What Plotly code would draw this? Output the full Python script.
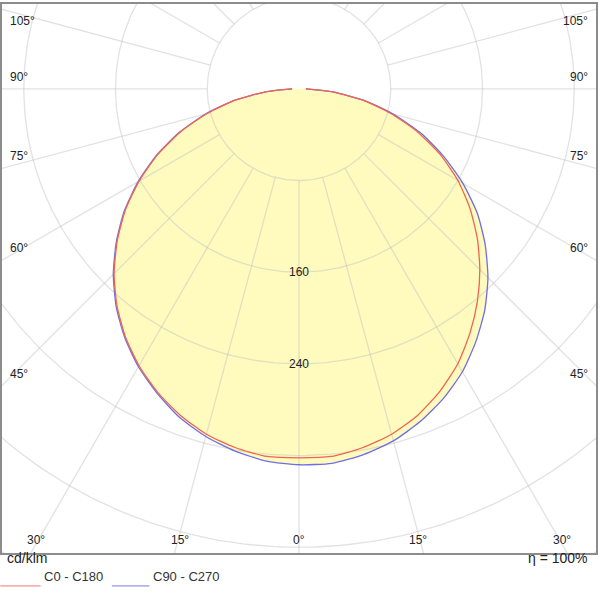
import numpy as np
import plotly.graph_objects as go

angles = [0, 5, 10, 15, 20, 25, 30, 35, 40, 45, 50, 55, 60, 65, 70, 75, 80, 85, 90]
c0 = [322, 322, 318, 312, 303, 291, 277, 260, 242, 223, 203, 182, 160, 136, 110, 83, 56, 28, 6]
c180 = [322, 322, 318, 312, 303, 292, 279, 264, 247, 228, 207, 185, 161, 136, 110, 83, 56, 28, 6]
c90 = [328, 328, 324, 318, 309, 298, 285, 269, 252, 233, 212, 190, 165, 139, 113, 85, 57, 29, 6]
c270 = [328, 326, 321, 314, 305, 293, 280, 265, 248, 229, 208, 186, 162, 137, 111, 84, 56, 28, 6]
rings = [80, 160, 240, 320, 400, 480, 560]
ring_labels = [160, 240]
side_labels = [45, 60, 75, 90, 105]
bottom_labels = [0, 15, 30]

XR, YT, YB = 259, 74, -405

def curve(right, left):
    a = np.radians(np.array(angles, float))
    r_r, r_l = np.array(right, float), np.array(left, float)
    xs = np.concatenate([(-r_l * np.sin(a))[::-1], (r_r * np.sin(a))[1:]])
    ys = np.concatenate([(-r_l * np.cos(a))[::-1], (-r_r * np.cos(a))[1:]])
    return xs, ys

fig = go.Figure()
fx, fy = curve(np.maximum(c0, c90), np.maximum(c180, c270))
fig.add_trace(go.Scatter(x=fx, y=fy, mode="lines", line=dict(width=0, shape="spline", smoothing=0.6),
                         fill="toself", fillcolor="rgb(255,251,190)", hoverinfo="skip"))
t = np.linspace(0, 2 * np.pi, 361)
GRID = "rgba(190,190,190,0.45)"
for r in rings:
    fig.add_trace(go.Scatter(x=r * np.sin(t), y=r * np.cos(t), mode="lines",
                             line=dict(color=GRID, width=1.3), hoverinfo="skip"))
for d in range(-180, 181, 15):
    a = np.radians(d)
    fig.add_trace(go.Scatter(x=[80 * np.sin(a), 800 * np.sin(a)], y=[-80 * np.cos(a), -800 * np.cos(a)],
                             mode="lines", line=dict(color=GRID, width=1.3), hoverinfo="skip"))
bx, by = curve(c90, c270)
fig.add_trace(go.Scatter(x=bx, y=by, mode="lines",
                         line=dict(color="rgb(110,110,230)", width=1.3, shape="spline", smoothing=0.6)))
rx, ry = curve(c0, c180)
fig.add_trace(go.Scatter(x=rx, y=ry, mode="lines",
                         line=dict(color="rgb(240,100,80)", width=1.3, shape="spline", smoothing=0.6)))

ann = []
F = dict(family="Liberation Sans, Arial", size=12, color="#222")
for v in ring_labels:
    ann.append(dict(x=0, y=-v, text=str(v), showarrow=False, font=F))
for d in side_labels:
    y = -XR / np.tan(np.radians(d)) if d != 90 else 0
    for s in (-1, 1):
        ann.append(dict(x=s * XR, y=y, text=f"{d}°", showarrow=False, font=F,
                        xanchor="left" if s < 0 else "right", xshift=-s * 6,
                        yshift=-12 if d == 105 else 12))
for d in bottom_labels:
    xv = -YB * np.tan(np.radians(d))
    for s in ((1,) if d == 0 else (-1, 1)):
        ann.append(dict(x=s * xv, y=YB, text=f"{d}°", showarrow=False, font=F,
                        yanchor="bottom", yshift=4, xshift=-s * 5 if d else 0))
ann += [
    dict(xref="paper", yref="paper", x=0.005, y=-0.028, text="cd/klm", showarrow=False,
         xanchor="left", font=dict(family="Liberation Sans, Arial", size=14, color="#222")),
    dict(xref="paper", yref="paper", x=0.99, y=-0.028, text="η = 100%", showarrow=False,
         xanchor="right", font=dict(family="Liberation Sans, Arial", size=14, color="#222")),
    dict(xref="paper", yref="paper", x=0.068, y=-0.06, text="C0 - C180", showarrow=False,
         xanchor="left", font=dict(family="Liberation Sans, Arial", size=13, color="#333")),
    dict(xref="paper", yref="paper", x=0.25, y=-0.06, text="C90 - C270", showarrow=False,
         xanchor="left", font=dict(family="Liberation Sans, Arial", size=13, color="#333")),
]
shapes = [
    dict(type="line", xref="paper", yref="paper", x0=-0.003, x1=0.065, y0=-0.06, y1=-0.06,
         line=dict(color="rgb(240,120,110)", width=1)),
    dict(type="line", xref="paper", yref="paper", x0=0.185, x1=0.248, y0=-0.06, y1=-0.06,
         line=dict(color="rgb(120,120,230)", width=1)),
]
fig.update_layout(
    width=600, height=599, margin=dict(l=2, r=2, t=2, b=46),
    paper_bgcolor="white", plot_bgcolor="white", showlegend=False,
    annotations=ann, shapes=shapes,
    xaxis=dict(range=[-XR, XR], showgrid=False, zeroline=False, showticklabels=False,
               ticks="", showline=True, mirror=True, linecolor="rgb(140,140,140)", linewidth=1.5),
    yaxis=dict(range=[YB, YT], showgrid=False, zeroline=False, showticklabels=False, ticks="",
               showline=True, mirror=True, linecolor="rgb(140,140,140)", linewidth=1.5),
)
fig.write_html("out.html", config={"displayModeBar": False},
               post_script="document.body.style.margin='0';document.body.style.overflow='hidden';")
